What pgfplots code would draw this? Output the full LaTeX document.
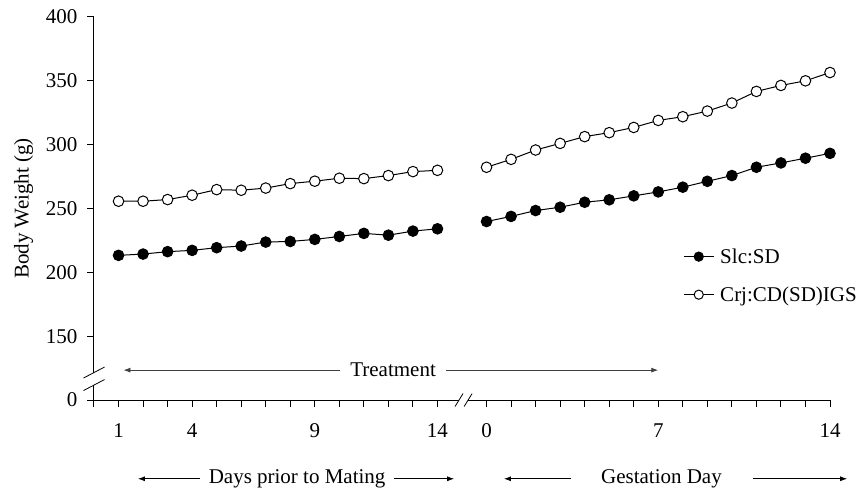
\documentclass[border=0pt]{standalone}
\usepackage{pgfplots}
\pgfplotsset{compat=1.18}
\usepackage{fontspec}
\setmainfont{Liberation Serif}
\usetikzlibrary{arrows.meta}
\begin{document}
\begin{tikzpicture}[font=\fontsize{21bp}{25bp}\selectfont]
\begin{axis}[
  name=ax,
  font=\fontsize{21bp}{25bp}\selectfont,
  scale only axis, width=736bp, height=383bp,
  xmin=0, xmax=30, ymin=100, ymax=400,
  axis lines=left, axis line style={-, line width=1bp},
  clip=false,
  xtick={0,1,2,3,4,5,6,7,8,9,10,11,12,13,14,16,17,18,19,20,21,22,23,24,25,26,27,28,29,30},
  xticklabels={{},1,{},{},4,{},{},{},{},9,{},{},{},{},14,0,{},{},{},{},{},{},7,{},{},{},{},{},{},14},
  ytick={100,150,200,250,300,350,400},
  yticklabels={0,150,200,250,300,350,400},
  xticklabel style={yshift=-13bp},
  yticklabel style={xshift=-6bp},
  tick align=outside, major tick length=7bp,
  tick style={black, line width=1bp},
  ylabel={Body Weight (g)},
  ylabel style={yshift=6bp},
  legend style={draw=none, fill=none, at={(axis cs:24.01,218.75)}, anchor=north west,
    inner sep=0pt, nodes={inner sep=0pt}, row sep=22bp, column sep=6bp,
    font=\fontsize{21bp}{25bp}\selectfont},
  legend cell align=left,
  legend image code/.code={\draw[mark repeat=2,mark phase=2,#1,mark size=4.6bp] plot coordinates {(0bp,0bp) (15bp,0bp) (30bp,0bp)};},
  unbounded coords=jump,
  every axis plot/.append style={black, line width=1bp, mark size=5.3bp},
]
\addplot[mark=*, mark options={fill=black}] coordinates {
(1,213.3)(2,214.3)(3,216.2)(4,217.2)(5,219.3)(6,220.6)(7,223.7)(8,224.2)(9,225.8)(10,228.1)(11,230.5)(12,229.1)(13,232.3)(14,234.1)
(15,nan)
(16,239.8)(17,243.8)(18,248.4)(19,251.0)(20,254.9)(21,256.8)(22,259.9)(23,263.0)(24,266.7)(25,271.3)(26,275.8)(27,282.3)(28,285.7)(29,289.4)(30,293.2)
};
\addlegendentry{Slc:SD}
\addplot[mark=*, mark options={fill=white}] coordinates {
(1,255.7)(2,255.7)(3,257.0)(4,260.4)(5,264.8)(6,264.3)(7,266.0)(8,269.5)(9,271.4)(10,273.7)(11,273.4)(12,275.8)(13,278.9)(14,279.9)
(15,nan)
(16,282.3)(17,288.5)(18,295.8)(19,301.0)(20,306.3)(21,309.4)(22,313.5)(23,319.0)(24,321.9)(25,326.3)(26,332.6)(27,341.7)(28,346.4)(29,350.0)(30,356.5)
};
\addlegendentry{Crj:CD(SD)IGS}
% Treatment arrow
\draw[{Latex[length=7bp,width=5bp]}-{Latex[length=7bp,width=5bp]}, line width=0.8bp, black!75]
  (axis cs:1.2,123.4) -- (axis cs:23,123.4);
\node[fill=white, inner xsep=10bp, inner ysep=1bp] at (axis cs:12.19,123.4) {Treatment};
% bottom labels
\node at (axis cs:8.28,38.3) {Days prior to Mating};
\draw[-{Latex[length=7bp,width=5bp]}, line width=0.8bp] (axis cs:4.32,38.3) -- (axis cs:1.79,38.3);
\draw[-{Latex[length=7bp,width=5bp]}, line width=0.8bp] (axis cs:12.23,38.3) -- (axis cs:14.68,38.3);
\node at (axis cs:23.13,38.3) {Gestation Day};
\draw[-{Latex[length=7bp,width=5bp]}, line width=0.8bp] (axis cs:19.45,38.3) -- (axis cs:16.71,38.3);
\draw[-{Latex[length=7bp,width=5bp]}, line width=0.8bp] (axis cs:26.87,38.3) -- (axis cs:30.70,38.3);
% y axis break
\fill[white] ([xshift=-2bp]axis cs:0,111.7) rectangle ([xshift=2bp]axis cs:0,121.5);
\draw[line width=0.8bp] ([xshift=-10.5bp,yshift=-5.5bp]axis cs:0,121.5) -- ([xshift=10.5bp,yshift=5.5bp]axis cs:0,121.5);
\draw[line width=0.8bp] ([xshift=-10.5bp,yshift=-5.5bp]axis cs:0,111.7) -- ([xshift=10.5bp,yshift=5.5bp]axis cs:0,111.7);
% x axis break
\fill[white] ([yshift=-2bp]axis cs:14.88,100) rectangle ([yshift=2bp]axis cs:15.25,100);
\draw[line width=0.8bp] ([xshift=-4bp,yshift=-6.5bp]axis cs:14.88,100) -- ([xshift=4bp,yshift=6.5bp]axis cs:14.88,100);
\draw[line width=0.8bp] ([xshift=-4bp,yshift=-6.5bp]axis cs:15.25,100) -- ([xshift=4bp,yshift=6.5bp]axis cs:15.25,100);
\end{axis}
\pgfresetboundingbox
\path (ax.south west) ++(-94bp,-95bp) rectangle ++(861bp,495bp);
\end{tikzpicture}
\end{document}
